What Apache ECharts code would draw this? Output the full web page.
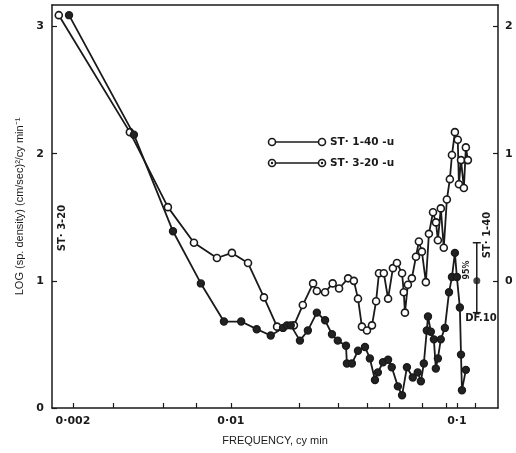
<!DOCTYPE html>
<html>
<head>
<meta charset="utf-8">
<script src="https://cdn.jsdelivr.net/npm/echarts@6/dist/echarts.min.js"></script>
<style>
  html, body { margin: 0; padding: 0; background: #fff; }
  #chart { width: 516px; height: 453px; }
</style>
</head>
<body>
<div id="chart"></div>
<script>
// ST 1-40-u  (open circles) : frequency (cy/min) and log spectral density
const freq140 = [0.00173, 0.00357, 0.00526, 0.00686, 0.00867, 0.0101, 0.0119, 0.0140, 0.0160, 0.0190,
  0.0208, 0.0231, 0.0240, 0.0261, 0.0282, 0.0301, 0.0330, 0.0350, 0.0365, 0.0380,
  0.0400, 0.0421, 0.0439, 0.0452, 0.0475, 0.0496, 0.0521, 0.0543, 0.0572, 0.0582,
  0.0589, 0.0607, 0.0632, 0.0659, 0.0679, 0.0700, 0.0729, 0.0752, 0.0784, 0.0808,
  0.0824, 0.0849, 0.0875, 0.0903, 0.0931, 0.0951, 0.0980, 0.1009, 0.1021, 0.1043,
  0.1074, 0.1096, 0.1119];
const logSd140 = [3.09, 2.17, 1.58, 1.30, 1.18, 1.22, 1.14, 0.87, 0.64, 0.65,
  0.81, 0.98, 0.92, 0.91, 0.98, 0.94, 1.02, 1.00, 0.86, 0.64,
  0.61, 0.65, 0.84, 1.06, 1.06, 0.86, 1.10, 1.14, 1.06, 0.91,
  0.75, 0.97, 1.02, 1.19, 1.31, 1.23, 0.99, 1.37, 1.54, 1.46,
  1.32, 1.57, 1.26, 1.64, 1.80, 1.99, 2.17, 2.11, 1.76, 1.95,
  1.73, 2.05, 1.95];

// ST 3-20-u  (dotted circles)
const freq320 = [0.00192, 0.00372, 0.00554, 0.00736, 0.00931, 0.0111, 0.0130, 0.0150, 0.0170, 0.0177,
  0.0184, 0.0202, 0.0219, 0.0240, 0.0261, 0.0280, 0.0297, 0.0323, 0.0326, 0.0343,
  0.0365, 0.0392, 0.0412, 0.0434, 0.0447, 0.0471, 0.0496, 0.0515, 0.0548, 0.0572,
  0.0601, 0.0638, 0.0671, 0.0693, 0.0714, 0.0736, 0.0745, 0.0767, 0.0791, 0.0807,
  0.0824, 0.0849, 0.0885, 0.0923, 0.0951, 0.0980, 0.1000, 0.1031, 0.1043, 0.1053,
  0.1096];
const logSd320 = [3.09, 2.15, 1.39, 0.98, 0.68, 0.68, 0.62, 0.57, 0.63, 0.65,
  0.65, 0.53, 0.61, 0.75, 0.69, 0.58, 0.53, 0.49, 0.35, 0.35,
  0.45, 0.48, 0.39, 0.22, 0.28, 0.36, 0.38, 0.32, 0.17, 0.10,
  0.32, 0.24, 0.28, 0.21, 0.35, 0.61, 0.72, 0.60, 0.54, 0.31,
  0.39, 0.54, 0.63, 0.91, 1.03, 1.22, 1.03, 0.79, 0.42, 0.14,
  0.30];

// 95% confidence bar (DF 10), read on the right-hand axis
const errFreq = 0.1225;
const errLow = -0.25, errMid = 0.0, errHigh = 0.30;

// axis ticks and labels
const xTickFreqs = [0.002, 0.003, 0.005, 0.007, 0.01, 0.02, 0.03, 0.04, 0.05, 0.07, 0.09, 0.1, 0.12];
const xLabelFreqs = [0.002, 0.01, 0.1];
const xLabelText = ['0·002', '0·01', '0·1'];
const yLeftTicks = [0, 1, 2, 3];
const yRightTicks = [0, 1, 2];

const lg = f => Math.log10(f);
const xMin = -2.792, xMax = -0.818;

const chart = echarts.init(document.getElementById('chart'));

const ink = '#1a1a1a';
const numFont = { fontFamily: 'DejaVu Sans', fontWeight: 'bold', fontSize: 11, color: ink };

const option = {
  animation: false,
  backgroundColor: '#fff',
  grid: { left: 52, right: 18, top: 5, bottom: 45 },
  xAxis: [{
    type: 'value',
    min: xMin, max: xMax,
    name: 'FREQUENCY, cy min',
    nameLocation: 'middle',
    nameGap: 27,
    nameTextStyle: { fontFamily: 'Liberation Sans', fontSize: 11, color: ink },
    axisLine: { onZero: false, lineStyle: { color: ink, width: 1.5 } },
    axisTick: { inside: true, length: 5, customValues: xTickFreqs.map(lg), lineStyle: { color: ink, width: 1.2 } },
    axisLabel: Object.assign({
      customValues: xLabelFreqs.map(lg),
      margin: 8,
      formatter: v => {
        let best = 0;
        xLabelFreqs.forEach((f, i) => { if (Math.abs(lg(f) - v) < Math.abs(lg(xLabelFreqs[best]) - v)) best = i; });
        return xLabelText[best];
      }
    }, numFont),
    splitLine: { show: false }
  }, {
    type: 'value', position: 'top',
    min: xMin, max: xMax,
    axisLine: { onZero: false, lineStyle: { color: ink, width: 1.5 } },
    axisTick: { show: false }, axisLabel: { show: false }, splitLine: { show: false }
  }],
  yAxis: [{
    type: 'value',
    min: 0, max: 3.17,
    name: 'LOG (sp. density) (cm/sec)²/cy min⁻¹',
    nameLocation: 'middle',
    nameGap: 27,
    nameTextStyle: { fontFamily: 'Liberation Sans', fontSize: 11, color: ink },
    axisLine: { show: true, onZero: false, lineStyle: { color: ink, width: 1.5 } },
    axisTick: { show: true, inside: true, length: 5, customValues: yLeftTicks, lineStyle: { color: ink, width: 1.2 } },
    axisLabel: Object.assign({ customValues: yLeftTicks, margin: 8 }, numFont),
    splitLine: { show: false }
  }, {
    type: 'value',
    position: 'right',
    min: -1, max: 2.17,
    axisLine: { show: true, onZero: false, lineStyle: { color: ink, width: 1.5 } },
    axisTick: { show: true, inside: true, length: 5, customValues: yRightTicks, lineStyle: { color: ink, width: 1.2 } },
    axisLabel: Object.assign({ customValues: yRightTicks, margin: 7 }, numFont),
    splitLine: { show: false }
  }],
  series: [{
    name: 'ST. 1-40 -u',
    type: 'line',
    data: freq140.map((f, i) => [lg(f), logSd140[i]]),
    symbol: 'circle',
    symbolSize: 7,
    lineStyle: { color: ink, width: 1.8 },
    itemStyle: { color: '#fff', borderColor: ink, borderWidth: 1.6 },
    z: 3
  }, {
    name: 'ST. 3-20 -u',
    type: 'line',
    data: freq320.map((f, i) => [lg(f), logSd320[i]]),
    symbol: 'circle',
    symbolSize: 7,
    lineStyle: { color: ink, width: 1.8 },
    itemStyle: { color: '#222', borderColor: ink, borderWidth: 1.4 },
    z: 4
  }, {
    name: 'confidence',
    type: 'line',
    yAxisIndex: 1,
    data: [[lg(errFreq), errLow], [lg(errFreq), errHigh]],
    symbol: 'rect',
    symbolSize: [8, 1.5],
    lineStyle: { color: ink, width: 1.5 },
    itemStyle: { color: ink }
  }, {
    name: 'confidenceMid',
    type: 'scatter',
    yAxisIndex: 1,
    data: [[lg(errFreq), errMid]],
    symbolSize: 7,
    itemStyle: { color: ink }
  }],
  graphic: [
    // legend
    { type: 'line', shape: { x1: 272, y1: 142, x2: 322, y2: 142 }, style: { stroke: ink, lineWidth: 1.5 } },
    { type: 'circle', shape: { cx: 272, cy: 142, r: 3.5 }, style: { fill: '#fff', stroke: ink, lineWidth: 1.6 } },
    { type: 'circle', shape: { cx: 322, cy: 142, r: 3.5 }, style: { fill: '#fff', stroke: ink, lineWidth: 1.6 } },
    { type: 'text', x: 330, y: 142, style: { text: 'ST· 1-40 -u', fill: ink, font: 'bold 10.5px "DejaVu Sans"', verticalAlign: 'middle' } },
    { type: 'line', shape: { x1: 272, y1: 163, x2: 322, y2: 163 }, style: { stroke: ink, lineWidth: 1.5 } },
    { type: 'circle', shape: { cx: 272, cy: 163, r: 3.5 }, style: { fill: '#fff', stroke: ink, lineWidth: 1.6 } },
    { type: 'circle', shape: { cx: 272, cy: 163, r: 1.2 }, style: { fill: ink } },
    { type: 'circle', shape: { cx: 322, cy: 163, r: 3.5 }, style: { fill: '#fff', stroke: ink, lineWidth: 1.6 } },
    { type: 'circle', shape: { cx: 322, cy: 163, r: 1.2 }, style: { fill: ink } },
    { type: 'text', x: 330, y: 163, style: { text: 'ST· 3-20 -u', fill: ink, font: 'bold 10.5px "DejaVu Sans"', verticalAlign: 'middle' } },
    // station labels and confidence-bar notes
    { type: 'text', x: 62, y: 228, rotation: Math.PI / 2, style: { text: 'ST· 3-20', fill: ink, font: 'bold 10px "DejaVu Sans"', align: 'center', verticalAlign: 'middle' } },
    { type: 'text', x: 487, y: 235, rotation: Math.PI / 2, style: { text: 'ST· 1-40', fill: ink, font: 'bold 10px "DejaVu Sans"', align: 'center', verticalAlign: 'middle' } },
    { type: 'text', x: 467, y: 270, rotation: Math.PI / 2, style: { text: '95%', fill: ink, font: 'bold 8px "DejaVu Sans"', align: 'center', verticalAlign: 'middle' } },
    { type: 'text', x: 481, y: 318, style: { text: 'DF.10', fill: ink, font: 'bold 10px "DejaVu Sans"', align: 'center', verticalAlign: 'middle' } }
  ]
};

chart.setOption(option);
</script>
</body>
</html>
